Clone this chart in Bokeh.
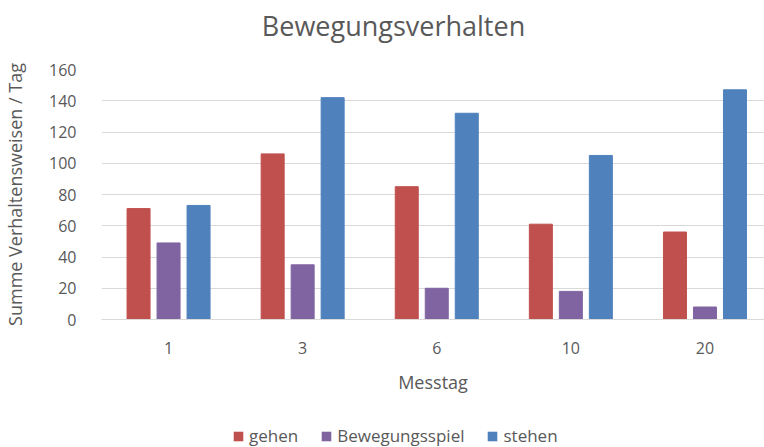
from bokeh.plotting import figure
from bokeh.layouts import column
from bokeh.models import ColumnDataSource, FixedTicker, Legend, LegendItem, Range1d, Label
from bokeh.transform import dodge
from bokeh.embed import file_html
from bokeh.resources import INLINE

# data
messtage = ["1", "3", "6", "10", "20"]
gehen = [71, 106, 85, 61, 56]
bewegungsspiel = [49, 35, 20, 18, 8]
stehen = [73, 142, 132, 105, 147]
y_ticks = [0, 20, 40, 60, 80, 100, 120, 140, 160]
title_text = "Bewegungsverhalten"
x_title = "Messtag"
y_title = "Summe Verhaltensweisen / Tag"

series_names = ["gehen", "Bewegungsspiel", "stehen"]
cols = ["gehen", "bewegungsspiel", "stehen"]
colors = ["#C0504D", "#8064A2", "#4F81BD"]

FONT = "Open Sans"
TXT = "#595959"
W = 764
H_TITLE = 50
H_MAIN = 350
H_LEG = 47
LEFT = 101

pos = list(range(len(messtage)))
src = ColumnDataSource(dict(x=pos, gehen=gehen, bewegungsspiel=bewegungsspiel, stehen=stehen))

# ---- title strip ----
tt = figure(width=W, height=H_TITLE, output_backend="svg", toolbar_location=None,
            x_range=Range1d(LEFT, W), y_range=Range1d(0, H_TITLE),
            min_border_left=LEFT, min_border_right=0, min_border_top=0, min_border_bottom=0)
tt.axis.visible = False
tt.grid.visible = False
tt.outline_line_color = None
tt.border_fill_color = "white"
tt.add_layout(Label(x=393, y=H_TITLE - 25, text=title_text, text_align="center",
                    text_baseline="middle", text_font=FONT, text_font_size="27px",
                    text_color=TXT))

# ---- main chart ----
p = figure(width=W, height=H_MAIN, output_backend="svg", toolbar_location=None,
           x_range=Range1d(-0.5, 4.444), y_range=Range1d(0, 160),
           min_border_left=LEFT, min_border_right=0, min_border_top=19, min_border_bottom=81)
p.outline_line_color = None
p.background_fill_color = "white"
p.border_fill_color = "white"

bw = 0.1715
off = 0.2237
for i, (c, col) in enumerate(zip(cols, colors)):
    p.vbar(x=dodge("x", (i - 1) * off, range=p.x_range), top=c, width=bw, bottom=0,
           source=src, fill_color=col, line_color=col, line_width=1)

p.xaxis.ticker = FixedTicker(ticks=pos)
p.xaxis.major_label_overrides = {i: m for i, m in enumerate(messtage)}
p.xaxis.axis_label = x_title
p.xaxis.axis_line_color = "#D9D9D9"
p.xaxis.major_tick_line_color = None
p.xaxis.minor_tick_line_color = None
p.xaxis.major_label_standoff = 16
p.xaxis.axis_label_standoff = 13

p.yaxis.ticker = FixedTicker(ticks=y_ticks)
p.yaxis.axis_label = y_title
p.yaxis.axis_line_color = None
p.yaxis.major_tick_line_color = None
p.yaxis.minor_tick_line_color = None
p.yaxis.major_label_standoff = 19
p.yaxis.axis_label_standoff = 19

for ax in (p.xaxis[0], p.yaxis[0]):
    ax.major_label_text_font = FONT
    ax.major_label_text_font_size = "16px"
    ax.major_label_text_color = TXT
    ax.axis_label_text_font = FONT
    ax.axis_label_text_font_size = "18px"
    ax.axis_label_text_font_style = "normal"
    ax.axis_label_text_color = TXT

p.xgrid.grid_line_color = None
p.ygrid.grid_line_color = "#D9D9D9"
p.ygrid.grid_line_width = 1

# ---- legend strip ----
lg = figure(width=W, height=H_LEG, output_backend="svg", toolbar_location=None,
            x_range=Range1d(-0.5, 4.444), y_range=Range1d(-1001, -1000),
            min_border_left=LEFT, min_border_right=0, min_border_top=0, min_border_bottom=0)
lg.axis.visible = False
lg.grid.visible = False
lg.outline_line_color = None
lg.border_fill_color = "white"
items = []
for name, c, col in zip(series_names, cols, colors):
    # renderer used only for the legend swatch (zero width, outside this strip's range)
    r = lg.vbar(x="x", top=c, width=0, bottom=0, source=src,
                fill_color=col, line_color=None)
    items.append(LegendItem(label=name, renderers=[r]))

legend = Legend(items=items, orientation="horizontal", location=(232 - LEFT, 0))
legend.glyph_width = 12
legend.glyph_height = 12
legend.label_standoff = 5
legend.spacing = 22
legend.padding = 0
legend.margin = 0
legend.border_line_color = None
legend.background_fill_alpha = 0
legend.label_text_font = FONT
legend.label_text_font_size = "17px"
legend.label_text_color = TXT
lg.add_layout(legend)

layout = column(tt, p, lg, spacing=0)
open("out.html", "w").write(file_html(layout, INLINE))
